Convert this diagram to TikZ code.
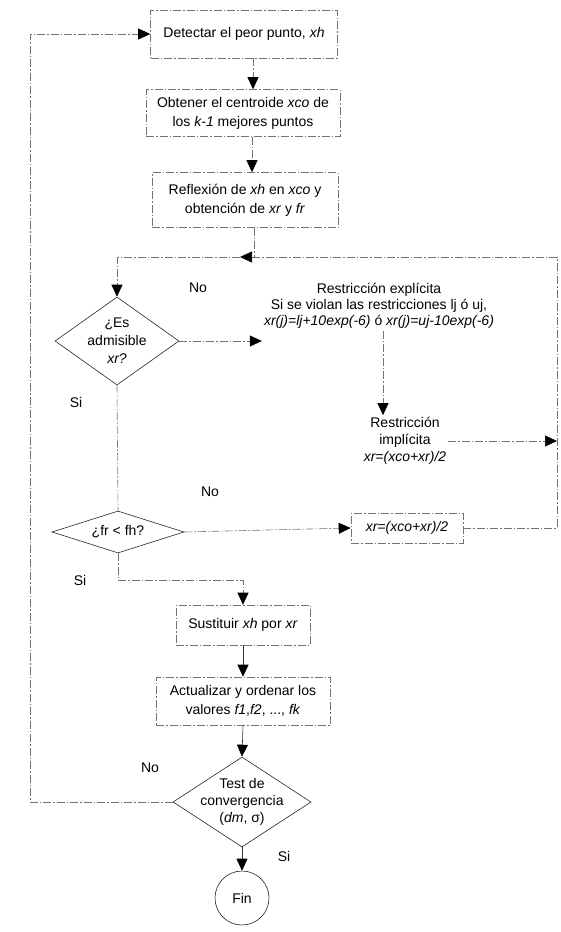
\documentclass[tikz,border=0pt]{standalone}
\usepackage{fontspec}
\setmainfont{Liberation Sans}
\usetikzlibrary{arrows.meta,shapes.geometric,calc}
\begin{document}
\begin{tikzpicture}[x=1pt,y=-1pt,
  lnstyle/.style={draw=black!55, line width=0.6pt, dash pattern=on 8pt off 2pt on 1.5pt off 2pt},
  conn/.style={lnstyle},
  tip/.style={-{Triangle[length=12pt,width=11pt,color=black]}},
  solidconn/.style={draw=black!80, line width=0.6pt},
  txt/.style={font=\fontsize{14}{19}\selectfont, align=center},
  procbox/.style={lnstyle, txt, inner sep=0pt},
  dec/.style={diamond, draw=black!85, line width=0.6pt, inner sep=0pt},
  lbl/.style={font=\fontsize{14}{16}\selectfont}
]
\useasboundingbox (0,0) rectangle (560,932);

% process boxes
\node[procbox, minimum width=187pt, minimum height=48pt] (b1) at (244,34) {Detectar el peor punto, \textit{xh}};
\node[procbox, minimum width=194pt, minimum height=47pt] (b2) at (243,113) {Obtener el centroide \textit{xco} de\\los \textit{k-1} mejores puntos};
\node[procbox, minimum width=186pt, minimum height=55pt] (b3) at (245,200) {Reflexión de \textit{xh} en \textit{xco} y\\obtención de \textit{xr} y \textit{fr}};

% decision 1
\node[dec, minimum width=124pt, minimum height=88pt,
  label={[txt, font=\fontsize{14}{18}\selectfont]center:{¿Es\\admisible\\\textit{xr?}}}] (d1) at (117,341) {};
\node[lbl] (no1) at (198,288) {No};
\node[lbl] (si1) at (76,402) {Si};

% restrictions
\node[txt, font=\fontsize{14}{16}\selectfont, inner sep=2pt] (expl) at (379,306) {Restricción explícita\\Si se violan las restricciones lj ó uj,\\\textit{xr(j)=lj+10exp(-6)} ó \textit{xr(j)=uj-10exp(-6)}};
\node[txt, font=\fontsize{14}{17}\selectfont, inner sep=2pt] (impl) at (405,441) {Restricción\\implícita\\\textit{xr=(xco+xr)/2}};

% decision 2
\node[dec, minimum width=132pt, minimum height=42pt,
  label={[txt]center:{¿fr < fh?}}] (d2) at (118,532) {};
\node[lbl] (no2) at (210,492) {No};
\node[lbl] (si2) at (80,580) {Si};
\node[procbox, minimum width=112pt, minimum height=30pt] (xrb) at (407,528) {\textit{xr=(xco+xr)/2}};

% lower boxes
\node[procbox, minimum width=134pt, minimum height=40pt] (s1) at (243,625) {Sustituir \textit{xh} por \textit{xr}};
\node[procbox, minimum width=174pt, minimum height=48pt] (a1) at (243,701) {Actualizar y ordenar los\\valores \textit{f1},\textit{f2}, ..., \textit{fk}};

% decision 3
\node[dec, minimum width=138pt, minimum height=90pt,
  label={[txt, font=\fontsize{14}{17}\selectfont]center:{Test de\\convergencia\\(\textit{dm}, σ)}}] (d3) at (242,802) {};
\node[lbl] (no3) at (150,768) {No};
\node[lbl] (si3) at (284,856) {Si};
\node[circle, draw=black!85, line width=0.6pt, minimum size=54pt, inner sep=0pt, txt] (fin) at (242,898) {Fin};

% helper coordinates
\coordinate (ll) at (30,802);
\coordinate (rtop) at (557,257);
\coordinate (jarr) at (240,257);

% connectors
\draw[conn, tip] ([xshift=9pt]b1.south) -- ([xshift=9pt]b1.south |- b2.north);
\draw[conn, tip] ([xshift=9pt]b2.south) -- ([xshift=9pt]b2.south |- b3.north);
\draw[conn] ([xshift=9pt]b3.south) -- ([xshift=9pt]b3.south |- jarr);
\draw[conn, tip] (xrb.east) -| (rtop) -- (jarr);
\draw[conn, tip] (jarr) -| (d1.north);
\draw[conn, tip] (d1.east) -- (expl.west |- d1.east);
\draw[conn, tip] ([xshift=4pt]expl.south) -- ([xshift=4pt]expl.south |- impl.north);
\draw[conn, tip] (impl.east) -- (impl.east -| rtop);
\draw[conn] (d1.south) -- (d2.north);
\draw[conn, tip] (d2.east) -- (xrb.west);
\draw[conn, tip] (d2.south) -- ++(0,27) -| (s1.north);
\draw[solidconn, tip] (s1.south) -- (a1.north);
\draw[solidconn, tip] (a1.south) -- (d3.north);
\draw[solidconn, tip] (d3.south) -- (fin.north);
\draw[conn, tip] (d3.west) -- (ll) |- (b1.west);
\end{tikzpicture}
\end{document}
